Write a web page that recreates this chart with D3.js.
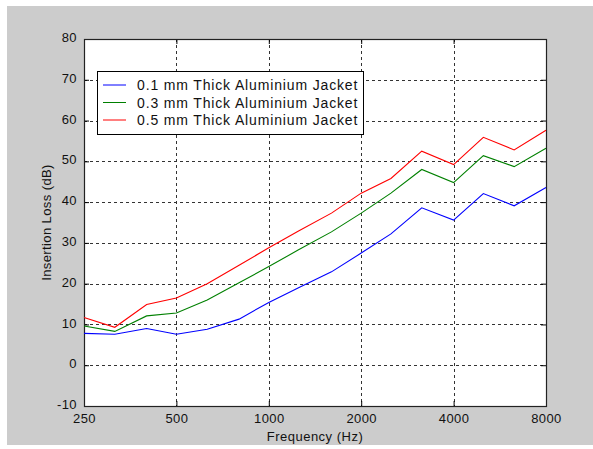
<!DOCTYPE html>
<html>
<head>
<meta charset="utf-8">
<script src="https://cdn.jsdelivr.net/npm/d3@7"></script>
<style>
  body { margin: 0; background: #fff; }
  svg { display: block; }
</style>
</head>
<body>
<div id="chart"></div>
<script>
// one-third octave band centre frequencies (Hz)
const freqs = [250, 315, 400, 500, 630, 800, 1000, 1250, 1600, 2000, 2500, 3150, 4000, 5000, 6300, 8000];

// insertion loss (dB)
const loss01 = [7.8, 7.6, 9.0, 7.6, 8.8, 11.3, 15.4, 19.0, 22.9, 27.5, 32.2, 38.6, 35.6, 42.1, 39.1, 43.6];
const loss03 = [9.6, 8.3, 12.1, 12.8, 16.0, 20.2, 24.2, 28.3, 32.7, 37.3, 42.2, 48.0, 44.8, 51.4, 48.7, 53.2];
const loss05 = [11.7, 9.3, 14.9, 16.5, 20.0, 24.5, 28.8, 32.9, 37.3, 42.2, 45.8, 52.5, 49.2, 55.9, 52.8, 57.6];

const seriesNames = ["0.1 mm Thick Aluminium Jacket", "0.3 mm Thick Aluminium Jacket", "0.5 mm Thick Aluminium Jacket"];
const seriesColors = ["#0000ff", "#008000", "#ff0000"];

const xTicks = [250, 500, 1000, 2000, 4000, 8000];
const yTicks = [-10, 0, 10, 20, 30, 40, 50, 60, 70, 80];

const width = 593, height = 449;
const margin = {top: 39, right: 47, bottom: 43, left: 84};

const svg = d3.select("#chart").append("svg")
    .attr("width", width)
    .attr("height", height)
    .attr("font-family", "Arial, 'Liberation Sans', sans-serif");

// grey figure background
svg.append("rect")
    .attr("x", 7).attr("y", 6)
    .attr("width", width - 7).attr("height", 439)
    .attr("fill", "#cccccc");

const x = d3.scaleLog()
    .domain([250, 8000])
    .range([margin.left, width - margin.right]);

const y = d3.scaleLinear()
    .domain([-10, 80])
    .range([height - margin.bottom, margin.top]);

// axes area
svg.append("rect")
    .attr("x", x.range()[0]).attr("y", y.range()[1])
    .attr("width", x.range()[1] - x.range()[0])
    .attr("height", y.range()[0] - y.range()[1])
    .attr("fill", "#fff");

// grid
const grid = svg.append("g")
    .attr("stroke", "#333")
    .attr("stroke-width", 1)
    .attr("stroke-dasharray", "3,3")
    .attr("shape-rendering", "crispEdges");

grid.selectAll("line.v")
  .data(xTicks.slice(1, -1))
  .join("line")
    .attr("x1", d => Math.round(x(d)) + 0.5)
    .attr("x2", d => Math.round(x(d)) + 0.5)
    .attr("y1", y(80)).attr("y2", y(-10));

grid.selectAll("line.h")
  .data(yTicks.slice(1, -1))
  .join("line")
    .attr("x1", x(250)).attr("x2", x(8000))
    .attr("y1", d => Math.round(y(d)) + 0.5)
    .attr("y2", d => Math.round(y(d)) + 0.5);

// axes with inward ticks on all four sides
const tickLen = 5;
svg.append("g")
    .attr("transform", `translate(0,${y(-10)})`)
    .call(d3.axisBottom(x).tickValues(xTicks).tickFormat(d => String(d)).tickSizeInner(-tickLen).tickSizeOuter(0).tickPadding(8))
    .call(g => g.selectAll("text").attr("font-size", 13).attr("fill", "#111").attr("letter-spacing", 0.4));

svg.append("g")
    .attr("transform", `translate(0,${y(80)})`)
    .call(d3.axisTop(x).tickValues(xTicks).tickFormat("").tickSizeInner(-tickLen).tickSizeOuter(0));

svg.append("g")
    .attr("transform", `translate(${x(250)},0)`)
    .call(d3.axisLeft(y).tickValues(yTicks).tickFormat(d => String(d)).tickSizeInner(-tickLen).tickSizeOuter(0).tickPadding(7))
    .call(g => g.selectAll("text").attr("font-size", 13).attr("fill", "#111").attr("dy", "0.2em").attr("letter-spacing", 0.4));

svg.append("g")
    .attr("transform", `translate(${x(8000)},0)`)
    .call(d3.axisRight(y).tickValues(yTicks).tickFormat("").tickSizeInner(-tickLen).tickSizeOuter(0));

svg.selectAll(".domain").remove();
svg.selectAll(".tick line").attr("stroke", "#000");

// box
svg.append("rect")
    .attr("x", x.range()[0] + 0.5).attr("y", y.range()[1] + 0.5)
    .attr("width", x.range()[1] - x.range()[0])
    .attr("height", y.range()[0] - y.range()[1])
    .attr("fill", "none")
    .attr("stroke", "#222")
    .attr("stroke-width", 1.2);

// series lines
const line = d3.line()
    .x((d, i) => x(freqs[i]))
    .y(d => y(d));

[loss01, loss03, loss05].forEach((s, k) => {
  svg.append("path")
      .datum(s)
      .attr("fill", "none")
      .attr("stroke", seriesColors[k])
      .attr("stroke-width", 1.1)
      .attr("d", line);
});

// labels
svg.append("text")
    .attr("x", (x.range()[0] + x.range()[1]) / 2)
    .attr("y", 441)
    .attr("text-anchor", "middle")
    .attr("font-size", 13)
    .attr("letter-spacing", 0.5)
    .attr("fill", "#111")
    .text("Frequency (Hz)");

svg.append("text")
    .attr("transform", `translate(51,${(y.range()[0] + y.range()[1]) / 2}) rotate(-90)`)
    .attr("text-anchor", "middle")
    .attr("font-size", 13)
    .attr("letter-spacing", 0.4)
    .attr("fill", "#111")
    .text("Insertion Loss (dB)");

// legend
const legend = svg.append("g");
legend.append("rect")
    .attr("x", 97.5).attr("y", 71.5)
    .attr("width", 266).attr("height", 63)
    .attr("fill", "#fff")
    .attr("stroke", "#000");

seriesNames.forEach((name, k) => {
  const ly = 85 + k * 17.5;
  legend.append("line")
      .attr("x1", 103).attr("x2", 126)
      .attr("y1", ly).attr("y2", ly)
      .attr("stroke", seriesColors[k]);
  legend.append("text")
      .attr("x", 137).attr("y", ly)
      .attr("dy", "0.36em")
      .attr("font-size", 14)
      .attr("letter-spacing", 0.85)
      .attr("fill", "#111")
      .text(name);
});
</script>
</body>
</html>
